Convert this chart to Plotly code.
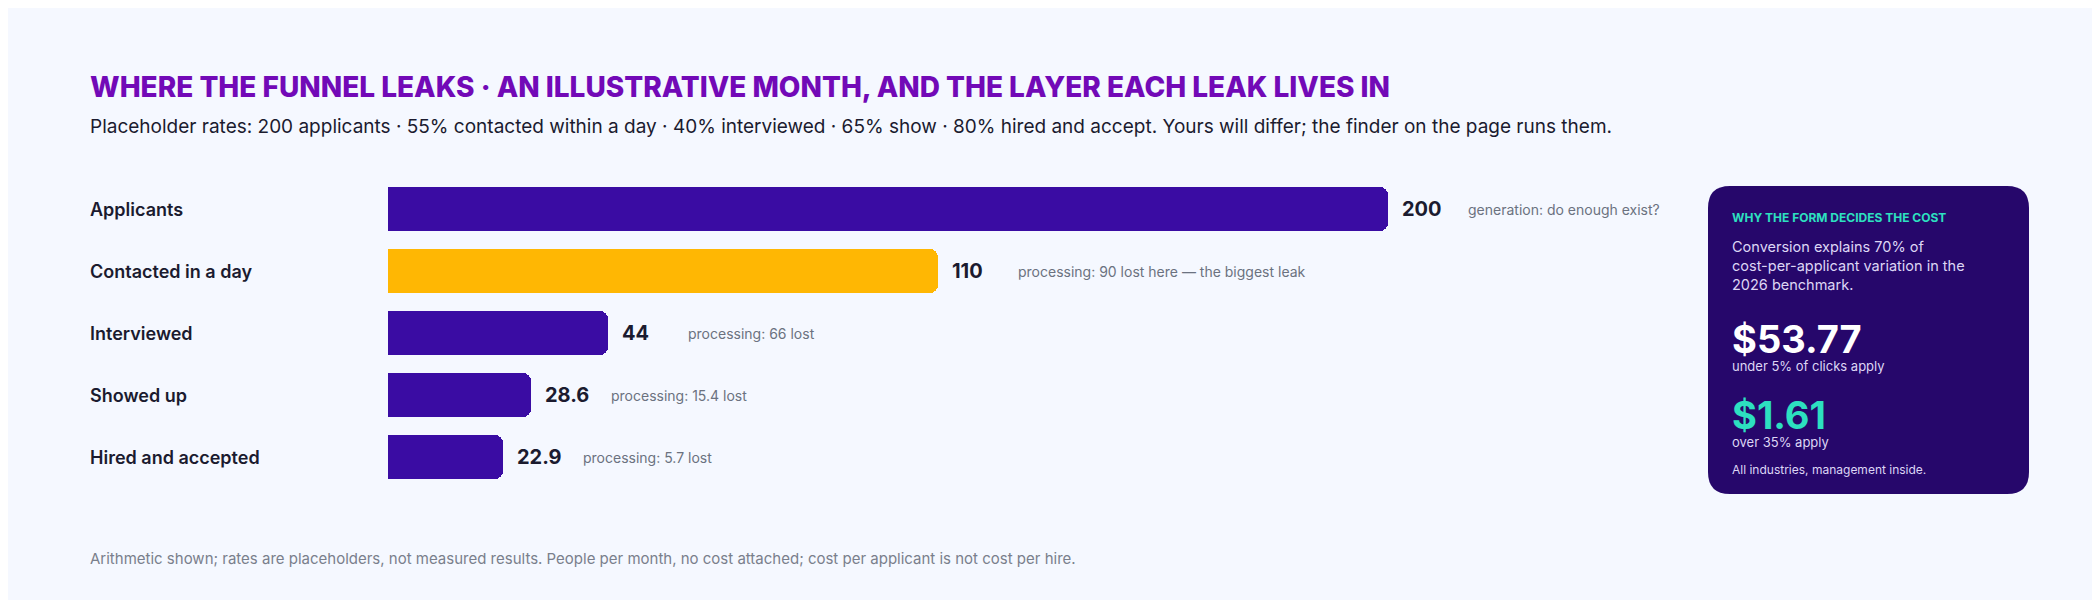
import plotly.graph_objects as go

stages = ["Applicants", "Contacted in a day", "Interviewed", "Showed up", "Hired and accepted"]
values = [200, 110, 44, 28.6, 22.9]
value_labels = ["200", "110", "44", "28.6", "22.9"]
notes = ["generation: do enough exist?", "processing: 90 lost here — the biggest leak",
         "processing: 66 lost", "processing: 15.4 lost", "processing: 5.7 lost"]
highlight = [False, True, False, False, False]

W, H = 2100, 600
FONT = "Inter, Lato, sans-serif"
BG = "#f5f8ff"
PURPLE = "#3a0ca3"
GOLD = "#ffb703"

def px(x): return x / W
def py(y): return 1 - y / H

fig = go.Figure()
ypos = list(range(len(stages)))
fig.add_trace(go.Bar(
    x=values, y=ypos, orientation="h", width=0.71,
    marker=dict(color=[GOLD if h else PURPLE for h in highlight], cornerradius=8, line=dict(width=0)),
    hoverinfo="skip", showlegend=False,
))

ann = []
for i, (s, v, lab, n) in enumerate(zip(stages, values, value_labels, notes)):
    ann.append(dict(x=px(80), xref="paper", y=i, yref="y", text=s, showarrow=False, xanchor="left",
                    font=dict(family=FONT, size=18, color="#1b1b2f", weight=600)))
    ann.append(dict(x=v, xref="x", y=i, yref="y", text=lab, showarrow=False, xanchor="left", xshift=12,
                    font=dict(family=FONT, size=20, color="#1b1b2f", weight=700)))
    ann.append(dict(x=v, xref="x", y=i, yref="y", text=n, showarrow=False, xanchor="left", xshift=78,
                    font=dict(family=FONT, size=14, color="#6b7280")))

def t(x, y, text, size, color, weight=400, yanchor="middle"):
    ann.append(dict(x=px(x), y=py(y), xref="paper", yref="paper", text=text, showarrow=False,
                    xanchor="left", yanchor=yanchor, align="left",
                    font=dict(family=FONT, size=size, color=color, weight=weight)))

t(80, 79, "WHERE THE FUNNEL LEAKS · AN ILLUSTRATIVE MONTH, AND THE LAYER EACH LEAK LIVES IN", 28, "#7209b7", 800)
t(80, 118, "Placeholder rates: 200 applicants · 55% contacted within a day · 40% interviewed · 65% show · 80% hired and accept. Yours will differ; the finder on the page runs them.", 19, "#1b1b2f")
t(80, 550, "Arithmetic shown; rates are placeholders, not measured results. People per month, no cost attached; cost per applicant is not cost per hire.", 15, "#7a7f8c")

# card
x0, x1, y0, y1, r = 1700, 2021, 178, 486, 22
pts = lambda x, y: f"{px(x)},{py(y)}"
path = (f"M {pts(x0+r,y0)} L {pts(x1-r,y0)} Q {pts(x1,y0)} {pts(x1,y0+r)} L {pts(x1,y1-r)} "
        f"Q {pts(x1,y1)} {pts(x1-r,y1)} L {pts(x0+r,y1)} Q {pts(x0,y1)} {pts(x0,y1-r)} "
        f"L {pts(x0,y0+r)} Q {pts(x0,y0)} {pts(x0+r,y0)} Z")
shapes = [dict(type="path", path=path, xref="paper", yref="paper", fillcolor="#26076b", line=dict(width=0), layer="below")]
t(1722, 209, "WHY THE FORM DECIDES THE COST", 12, "#2de0c0", 700)
t(1722, 257, "Conversion explains 70% of<br>cost-per-applicant variation in the<br>2026 benchmark.", 14.5, "#ddd6f5")
t(1722, 331, "$53.77", 38, "#ffffff", 700)
t(1722, 358, "under 5% of clicks apply", 13, "#ddd6f5")
t(1722, 407, "$1.61", 38, "#2de0c0", 700)
t(1722, 434, "over 35% apply", 13, "#ddd6f5")
t(1722, 461, "All industries, management inside.", 12, "#ddd6f5")

fig.update_layout(
    width=W, height=H, margin=dict(l=0, r=0, t=0, b=0),
    paper_bgcolor=BG, plot_bgcolor=BG,
    xaxis=dict(domain=[px(380), px(1680)], range=[0, 260], visible=False, fixedrange=True),
    yaxis=dict(domain=[0, 1], range=[(600 - 201) / 62, -201 / 62], visible=False, fixedrange=True),
    annotations=ann, shapes=shapes, bargap=0,
)
fig.write_html("out.html")
